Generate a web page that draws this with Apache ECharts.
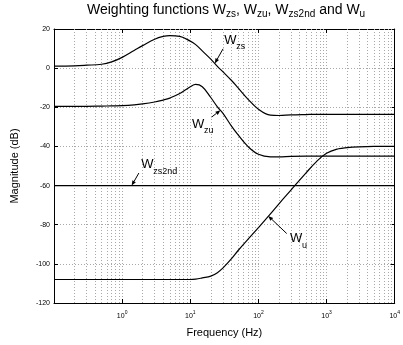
<!DOCTYPE html>
<html>
<head>
<meta charset="utf-8">
<script src="https://cdn.jsdelivr.net/npm/echarts@6/dist/echarts.min.js"></script>
<style>
  html, body { margin: 0; padding: 0; background: #fff; }
  #chart { width: 403px; height: 345px; }
</style>
</head>
<body>
<div id="chart"></div>
<script>
// frequencies (Hz) shared by all curves
const freq = [0.1, 0.2, 0.3, 0.5, 0.7, 1, 1.5, 2, 3, 4, 5, 7, 10, 12, 15, 20, 25, 30, 40, 50, 70,
  100, 150, 200, 300, 500, 700, 1000, 1500, 2000, 3000, 5000, 10000];

// magnitudes in dB
const wzs = [1.0, 1.2, 1.5, 2.0, 3.2, 5.5, 9.0, 11.5, 14.8, 16.2, 16.6, 16.2, 13.8, 12.0, 8.8, 4.6, 0.9,
  -1.8, -6.2, -10.0, -15.8, -21.0, -24.0, -24.2, -23.9, -23.7, -23.6, -23.6, -23.6, -23.6, -23.6, -23.6, -23.6];
const wzu = [-19.5, -19.5, -19.5, -19.4, -19.3, -19.2, -18.8, -18.3, -17.3, -16.3, -15.3, -13.0, -9.5, -8.3,
  -9.5, -15.0, -19.8, -23.0, -29.5, -34.0, -40.0, -44.0, -45.3, -45.3, -45.1, -45.0, -45.0, -45.0, -45.0,
  -45.0, -45.0, -45.0, -45.0];
const wzs2nd = [-60, -60, -60, -60, -60, -60, -60, -60, -60, -60, -60, -60, -60, -60, -60, -60, -60,
  -60, -60, -60, -60, -60, -60, -60, -60, -60, -60, -60, -60, -60, -60, -60, -60];
const wu = [-108, -108, -108, -108, -108, -108, -108, -108, -108, -108, -108, -108, -108, -107.8, -107.2,
  -106.3, -104.5, -102.2, -97.5, -93.3, -87.5, -81.5, -74.5, -69.3, -62.3, -53.5, -48.0, -43.5, -41.2,
  -40.6, -40.2, -40.0, -40.0];

// y ticks
const yMin = -120, yMax = 20, yStep = 20;

// annotations: subscript, text corner, arrow tail, arrow tip (data coords)
const notes = [
  { sub: 'zs', text: [31.6, 17.7], tail: [30.3, 9.9], tip: [22.9, 2.4] },
  { sub: 'zu', text: [10.6, -25.2], tail: [20.6, -25.0], tip: [27.7, -21.5] },
  { sub: 'zs2nd', text: [1.9, -46.1], tail: [1.76, -53.6], tip: [1.38, -60] },
  { sub: 'u', text: [290, -83.8], tail: [260, -84.5], tip: [139, -75.5] }
];

// minor log grid lines (2..9 per decade)
const minorGrid = [];
for (let d = -1; d < 4; d++) {
  for (let k = 2; k <= 9; k++) minorGrid.push({ xAxis: k * Math.pow(10, d) });
}

const font = 'Liberation Sans, Arial, Helvetica, sans-serif';
const gridDots = { type: [1, 2], color: '#a8a8a8', width: 1 };

const chart = echarts.init(document.getElementById('chart'));

function curve(name, vals, extra) {
  return Object.assign({
    name,
    type: 'line',
    data: freq.map((f, i) => [f, vals[i]]),
    showSymbol: false,
    smooth: 0.4,
    silent: true,
    z: 3,
    lineStyle: { color: '#000', width: 1.2 },
    itemStyle: { color: '#000' }
  }, extra || {});
}

const frameAxis = {
  axisLine: { show: true, onZero: false, lineStyle: { color: '#000', width: 1 } },
  axisTick: { show: true, inside: true, length: 4, lineStyle: { color: '#000' } }
};

const option = {
  animation: false,
  textStyle: { fontFamily: font },
  title: {
    text: 'Weighting functions W{s|zs}, W{s|zu}, W{s|zs2nd} and W{s|u}',
    left: 87,
    top: 2,
    padding: 0,
    textStyle: {
      fontFamily: font,
      fontSize: 14,
      fontWeight: 'normal',
      color: '#000',
      lineHeight: 17,
      rich: {
        s: { fontSize: 10, fontFamily: font, color: '#000', lineHeight: 2, verticalAlign: 'bottom' }
      }
    }
  },
  grid: { left: 54, right: 1, top: 29, bottom: 42 },
  xAxis: [
    Object.assign({
      type: 'log',
      logBase: 10,
      min: 0.1,
      max: 10000,
      position: 'bottom',
      name: 'Frequency (Hz)',
      nameLocation: 'middle',
      nameGap: 24,
      nameTextStyle: { fontSize: 11, color: '#000', fontFamily: font },
      axisLabel: {
        color: '#000',
        margin: 7,
        formatter: v => {
          const e = Math.round(Math.log10(v));
          return e === -1 ? '' : '{b|10}{p|' + e + '}';
        },
        rich: {
          b: { fontSize: 7, fontFamily: font, color: '#000', lineHeight: 12 },
          p: { fontSize: 5, fontFamily: font, color: '#000', lineHeight: 4, verticalAlign: 'top' }
        }
      },
      splitLine: { show: true, lineStyle: gridDots }
    }, frameAxis),
    Object.assign({
      type: 'log',
      logBase: 10,
      min: 0.1,
      max: 10000,
      position: 'top',
      axisLabel: { show: false },
      splitLine: { show: false }
    }, frameAxis)
  ],
  yAxis: [
    Object.assign({
      type: 'value',
      min: yMin,
      max: yMax,
      interval: yStep,
      name: 'Magnitude (dB)',
      nameLocation: 'middle',
      nameGap: 34,
      nameTextStyle: { fontSize: 11, color: '#000', fontFamily: font },
      axisLabel: { fontSize: 7, color: '#000', margin: 4 },
      splitLine: { show: true, lineStyle: gridDots }
    }, frameAxis),
    Object.assign({
      type: 'value',
      min: yMin,
      max: yMax,
      interval: yStep,
      position: 'right',
      axisLabel: { show: false },
      splitLine: { show: false }
    }, frameAxis)
  ],
  series: [
    curve('Wzs', wzs),
    curve('Wzu', wzu),
    curve('Wzs2nd', wzs2nd, {
      markLine: {
        silent: true,
        symbol: 'none',
        label: { show: false },
        lineStyle: gridDots,
        z: 1,
        data: minorGrid
      }
    }),
    curve('Wu', wu)
  ]
};

chart.setOption(option);

// annotation texts and arrows, placed through the axes
const px = p => chart.convertToPixel({ seriesIndex: 0 }, p);
const graphics = [];
notes.forEach(n => {
  const t = px(n.text), a = px(n.tail), b = px(n.tip);
  graphics.push({
    type: 'text', x: t[0], y: t[1], z: 10,
    style: { text: 'W', font: '13px ' + font, fill: '#000', verticalAlign: 'top' }
  });
  graphics.push({
    type: 'text', x: t[0] + 12, y: t[1] + 9, z: 10,
    style: { text: n.sub, font: '9px ' + font, fill: '#000', verticalAlign: 'top' }
  });
  const dx = b[0] - a[0], dy = b[1] - a[1];
  const len = Math.sqrt(dx * dx + dy * dy);
  const ux = dx / len, uy = dy / len;
  const L = 5, W = 2;
  graphics.push({
    type: 'line', z: 10,
    shape: { x1: a[0], y1: a[1], x2: b[0] - ux * L, y2: b[1] - uy * L },
    style: { stroke: '#000', lineWidth: 1 }
  });
  graphics.push({
    type: 'polygon', z: 10,
    shape: {
      points: [
        [b[0], b[1]],
        [b[0] - ux * L - uy * W, b[1] - uy * L + ux * W],
        [b[0] - ux * L + uy * W, b[1] - uy * L - ux * W]
      ]
    },
    style: { fill: '#000' }
  });
});
chart.setOption({ graphic: graphics });
</script>
</body>
</html>
